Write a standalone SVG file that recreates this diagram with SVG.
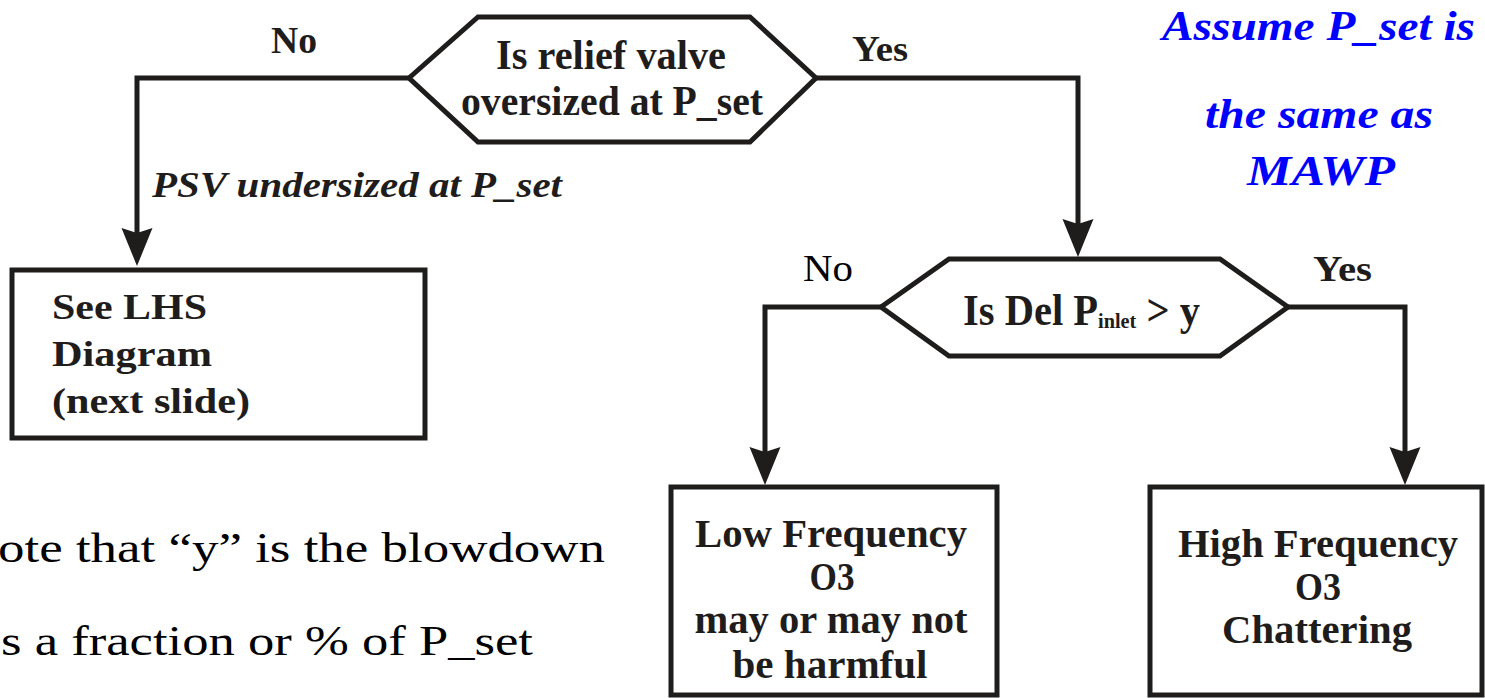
<svg xmlns="http://www.w3.org/2000/svg" width="1485" height="698" viewBox="0 0 1485 698" font-family="'Liberation Serif', 'Times New Roman', serif">
  <style>
    .shape { fill: #ffffff; stroke: #1f1c1c; stroke-width: 5; stroke-linejoin: miter; }
    .wire { fill: none; stroke: #1f1c1c; stroke-width: 5; stroke-linejoin: miter; }
    .b { font-weight: bold; fill: #1f1c1c; }
    .r { fill: #000000; }
    .bi { font-weight: bold; font-style: italic; fill: #1f1c1c; }
    .note { font-weight: bold; font-style: italic; fill: #0000ff; }
    .m { text-anchor: middle; }
  </style>
  <defs>
    <marker id="arrow" markerUnits="userSpaceOnUse" orient="auto" overflow="visible" markerWidth="1" markerHeight="1">
      <path d="M10,0 L-28,-15.5 L-23,0 L-28,15.5 Z" fill="#1f1c1c"/>
    </marker>
  </defs>

  <rect width="1485" height="698" fill="#ffffff"/>

  <!-- connectors -->
  <g id="connectors">
    <path class="wire" d="M409,78 H137 V256" marker-end="url(#arrow)"/>
    <path class="wire" d="M816,78 H1078 V247" marker-end="url(#arrow)"/>
    <path class="wire" d="M881,307 H765 V475" marker-end="url(#arrow)"/>
    <path class="wire" d="M1288,307 H1405 V475" marker-end="url(#arrow)"/>
    <text class="b" x="271" y="53" font-size="37" textLength="46" lengthAdjust="spacingAndGlyphs">No</text>
    <text class="b" x="852" y="61" font-size="36" textLength="56" lengthAdjust="spacingAndGlyphs">Yes</text>
    <text class="bi" x="152" y="197" font-size="36" textLength="410" lengthAdjust="spacingAndGlyphs">PSV undersized at P_set</text>
    <text class="r" x="803" y="281" font-size="37" textLength="50" lengthAdjust="spacingAndGlyphs">No</text>
    <text class="b" x="1313" y="281" font-size="36" textLength="59" lengthAdjust="spacingAndGlyphs">Yes</text>
  </g>

  <!-- decision: relief valve sizing -->
  <g id="q-oversized">
    <polygon class="shape" points="409,78 478,17 750,17 816,78 750,142 478,142"/>
    <text class="b m" x="611" y="69" font-size="42" textLength="230" lengthAdjust="spacingAndGlyphs">Is relief valve</text>
    <text class="b m" x="612" y="115" font-size="42" textLength="302" lengthAdjust="spacingAndGlyphs">oversized at P_set</text>
  </g>

  <!-- outcome: undersized -->
  <g id="see-lhs">
    <rect class="shape" x="12" y="270" width="413" height="168"/>
    <text class="b" x="52" y="319" font-size="36" textLength="155" lengthAdjust="spacingAndGlyphs">See LHS</text>
    <text class="b" x="52" y="366" font-size="36" textLength="160" lengthAdjust="spacingAndGlyphs">Diagram</text>
    <text class="b" x="52" y="413" font-size="36" textLength="198" lengthAdjust="spacingAndGlyphs">(next slide)</text>
  </g>

  <!-- decision: inlet pressure drop vs blowdown -->
  <g id="q-delp">
    <polygon class="shape" points="881,307 949,259 1220,259 1288,307 1220,356 949,356"/>
    <text class="b" x="963" y="325" font-size="44" textLength="237" lengthAdjust="spacingAndGlyphs">Is Del P<tspan font-size="22" dy="3">inlet</tspan><tspan dy="-3"> &gt; y</tspan></text>
  </g>

  <!-- outcome: low frequency -->
  <g id="low-freq">
    <rect class="shape" x="671" y="487" width="326" height="208"/>
    <text class="b m" x="831" y="547" font-size="40" textLength="272" lengthAdjust="spacingAndGlyphs">Low Frequency</text>
    <text class="b m" x="832" y="590" font-size="40" textLength="45" lengthAdjust="spacingAndGlyphs">O3</text>
    <text class="b m" x="831" y="633" font-size="40" textLength="273" lengthAdjust="spacingAndGlyphs">may or may not</text>
    <text class="b m" x="830" y="678" font-size="40" textLength="195" lengthAdjust="spacingAndGlyphs">be harmful</text>
  </g>

  <!-- outcome: high frequency -->
  <g id="high-freq">
    <rect class="shape" x="1150" y="487" width="332" height="208"/>
    <text class="b m" x="1318" y="557" font-size="40" textLength="280" lengthAdjust="spacingAndGlyphs">High Frequency</text>
    <text class="b m" x="1318" y="600" font-size="40" textLength="46" lengthAdjust="spacingAndGlyphs">O3</text>
    <text class="b m" x="1317" y="643" font-size="40" textLength="190" lengthAdjust="spacingAndGlyphs">Chattering</text>
  </g>

  <!-- assumption note -->
  <g id="assumption">
    <text class="note" x="1162" y="40" font-size="42" textLength="313" lengthAdjust="spacingAndGlyphs">Assume P_set is</text>
    <text class="note" x="1205" y="128" font-size="42" textLength="228" lengthAdjust="spacingAndGlyphs">the same as</text>
    <text class="note" x="1247" y="185" font-size="42" textLength="148" lengthAdjust="spacingAndGlyphs">MAWP</text>
  </g>

  <!-- blowdown remark -->
  <g id="blowdown-note">
    <text class="r" x="-2" y="562" font-size="43" textLength="607" lengthAdjust="spacingAndGlyphs">ote that “y” is the blowdown</text>
    <text class="r" x="1" y="655" font-size="43" textLength="532" lengthAdjust="spacingAndGlyphs">s a fraction or % of P_set</text>
  </g>
</svg>
